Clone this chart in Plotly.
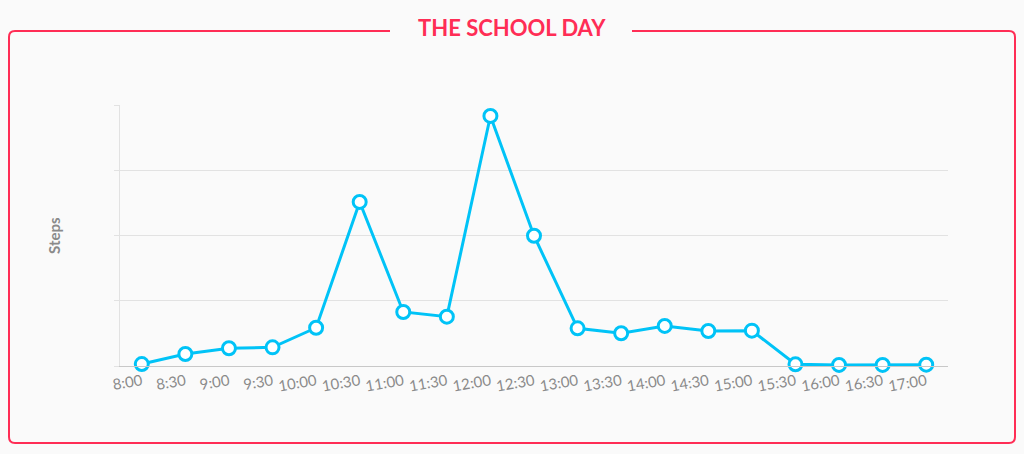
import plotly.graph_objects as go

times = ["8:00", "8:30", "9:00", "9:30", "10:00", "10:30", "11:00", "11:30", "12:00", "12:30",
         "13:00", "13:30", "14:00", "14:30", "15:00", "15:30", "16:00", "16:30", "17:00"]
steps = [15, 92, 136, 143, 293, 1257, 414, 378, 1916, 998,
         289, 251, 307, 268, 271, 13, 8, 8, 10]
y_ticks = [0, 500, 1000, 1500, 2000]
title_text = "THE SCHOOL DAY"
y_label = "Steps"

W, H = 1024, 454
L, R, T, B = 120, 948, 105, 366
pw, ph = R - L, B - T

def px(x):
    return (x - L) / pw

def py(y):
    return (B - y) / ph

RED = "#ff2d55"
CYAN = "#00c3f7"

fig = go.Figure()
fig.add_trace(go.Scatter(
    x=times, y=steps, mode="lines+markers",
    line=dict(color=CYAN, width=3),
    marker=dict(size=13, color="white", line=dict(color=CYAN, width=3)),
    cliponaxis=False, hoverinfo="x+y", showlegend=False,
))

# frame with gap for the title
x0, x1, y0, y1 = 9, 1015, 31, 443
r = 6
gl, gr = 390, 632
rx, ry = r / pw, r / ph
path = (
    f"M {px(gl)} {py(y0)} L {px(x0) + rx} {py(y0)} "
    f"Q {px(x0)} {py(y0)} {px(x0)} {py(y0) - ry} "
    f"L {px(x0)} {py(y1) + ry} "
    f"Q {px(x0)} {py(y1)} {px(x0) + rx} {py(y1)} "
    f"L {px(x1) - rx} {py(y1)} "
    f"Q {px(x1)} {py(y1)} {px(x1)} {py(y1) + ry} "
    f"L {px(x1)} {py(y0) - ry} "
    f"Q {px(x1)} {py(y0)} {px(x1) - rx} {py(y0)} "
    f"L {px(gr)} {py(y0)}"
)
fig.add_shape(type="path", path=path, xref="paper", yref="paper",
              line=dict(color=RED, width=2), layer="below")

fig.add_annotation(text=f"<b>{title_text}</b>", x=px(512), y=py(28), xref="paper", yref="paper",
                   showarrow=False, xanchor="center", yanchor="middle",
                   font=dict(family="Lato", size=22, color=RED))
fig.add_annotation(text=f"<b>{y_label}</b>", x=px(54), y=py(236), xref="paper", yref="paper",
                   showarrow=False, xanchor="center", yanchor="middle", textangle=-90,
                   font=dict(family="Lato", size=15, color="#8a8a8a"))

fig.update_layout(
    width=W, height=H, autosize=False,
    margin=dict(l=L, r=W - R, t=T, b=H - B, pad=0),
    paper_bgcolor="#fafafa", plot_bgcolor="#fafafa",
    font=dict(family="Lato", color="#8a8a8a"),
    xaxis=dict(
        type="category", showgrid=False, zeroline=False,
        showline=True, linecolor="#c8c8c8", linewidth=1,
        ticks="", tickangle=-10, tickfont=dict(size=15, color="#8a8a8a"),
        range=[-0.5, len(times) - 0.5], fixedrange=True,
    ),
    yaxis=dict(
        range=[0, 2000], tickvals=y_ticks, showticklabels=False,
        showgrid=True, gridcolor="#e2e2e2", gridwidth=1,
        zeroline=False, showline=True, linecolor="#e2e2e2", linewidth=1,
        ticks="outside", ticklen=5, tickcolor="#e2e2e2", fixedrange=True,
    ),
)

fig.write_html(
    "out.html",
    config={"displayModeBar": False},
    post_script="document.body.style.margin='0';document.body.style.background='#fafafa';",
)
